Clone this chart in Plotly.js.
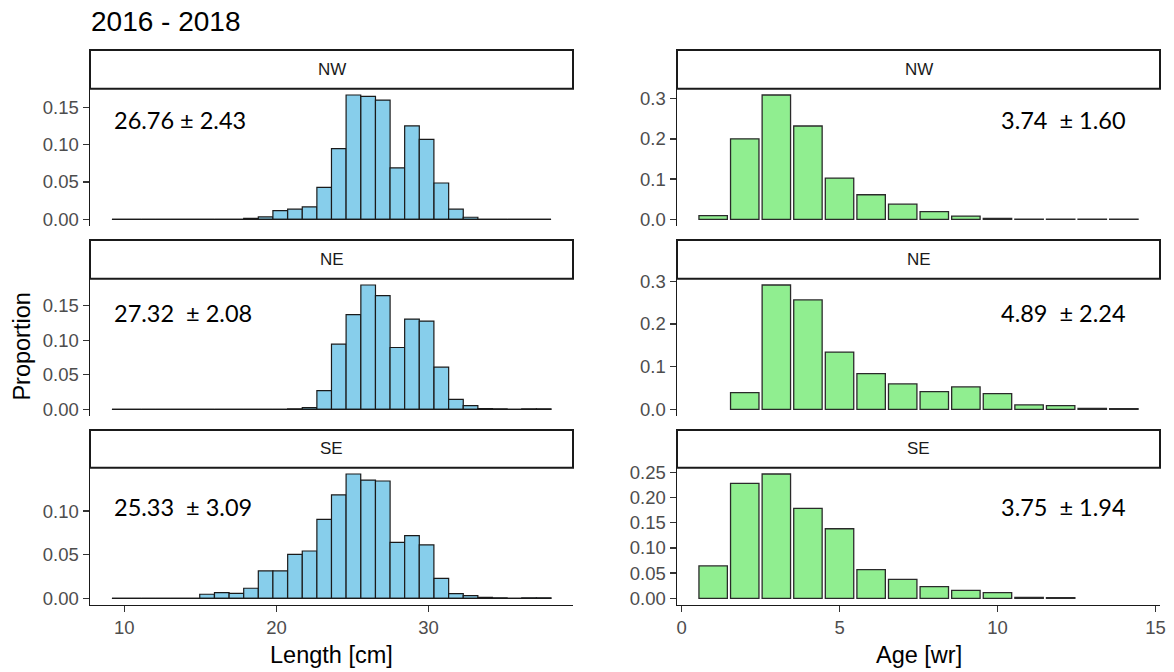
<!DOCTYPE html>
<html>
<head>
<meta charset="utf-8">
<script src="https://cdn.plot.ly/plotly-3.0.1.min.js"></script>
<style>html,body{margin:0;padding:0;background:#fff;}#chart{width:1174px;height:672px;}</style>
</head>
<body>
<div id="chart"></div>
<script>
// ---- data ----
const chartTitle = "2016 - 2018";
const regions = ["NW", "NE", "SE"];
const lengthMids = [9.67,10.63,11.60,12.56,13.52,14.48,15.44,16.41,17.37,18.33,19.29,20.25,21.22,22.18,23.14,24.10,25.06,26.03,26.99,27.95,28.91,29.87,30.84,31.80,32.76,33.72,34.68,35.65,36.61,37.57];
const lengthBinWidth = 0.962;
const nwLength = [0,0,0,0,0,0,0,0,0,0.0013,0.0031,0.0117,0.0135,0.0166,0.0428,0.0945,0.1664,0.1646,0.1596,0.0688,0.125,0.107,0.0486,0.0135,0.0027,0,0,0,0,0];
const neLength = [0,0,0,0,0,0,0,0,0,0,0,0,0.0005,0.0024,0.027,0.0943,0.137,0.180,0.1645,0.0895,0.1306,0.1277,0.061,0.0145,0.0053,0.001,0.0005,0,0.0005,0.0005];
const seLength = [0,0,0,0,0,0,0.0046,0.0065,0.0057,0.0115,0.0313,0.0313,0.0504,0.0542,0.0905,0.1184,0.1424,0.1355,0.1344,0.0641,0.0718,0.0611,0.0229,0.0053,0.003,0.001,0.0005,0,0.0005,0.0005];
const ages = [1,2,3,4,5,6,7,8,9,10,11,12,13,14];
const nwAge = [0.009,0.20,0.309,0.232,0.1025,0.061,0.0375,0.019,0.008,0.0025,0.0005,0.0005,0.0005,0.0005];
const neAge = [null,0.039,0.291,0.256,0.134,0.0835,0.0593,0.0414,0.0523,0.0367,0.0101,0.0086,0.0023,0.0015];
const seAge = [0.0642,0.228,0.2467,0.1786,0.138,0.0569,0.0377,0.0231,0.0159,0.0112,0.002,0.0013,null,null];
const lengthStats = ["26.76 ± 2.43", "27.32  ± 2.08", "25.33  ± 3.09"];
const ageStats = ["3.74  ± 1.60", "4.89  ± 2.24", "3.75  ± 1.94"];
const lengthTicks = [10, 20, 30];
const ageTicks = [0, 5, 10, 15];
const xTitleLeft = "Length [cm]";
const xTitleRight = "Age [wr]";
const yTitle = "Proportion";

// ---- layout geometry (pixels) ----
const W = 1174, H = 672;
const leftX = [90, 573], rightX = [677, 1160];
const panelY = [[88.8, 225.5], [278.8, 415.5], [467.8, 604.5]];
const stripY = [[50, 88.8], [240, 278.8], [430, 467.8]];
const px = v => v / W, py = v => 1 - v / H;

const FONT = "Liberation Sans, Arial, sans-serif";
const tickFont = {family: FONT, size: 18.5, color: "#4D4D4D"};

const lengthSets = [nwLength, neLength, seLength];
const ageSets = [nwAge, neAge, seAge];

const lenLo = lengthMids[0] - lengthBinWidth / 2;
const lenHi = lengthMids[lengthMids.length - 1] + lengthBinWidth / 2;
const lenPad = 0.05 * (lenHi - lenLo);
const ageLo = ages[0] - 0.45, ageHi = ages[ages.length - 1] + 0.45;
const agePad = 0.05 * (ageHi - ageLo);

const traces = [];
const layout = {
  width: W, height: H,
  margin: {l: 0, r: 0, t: 0, b: 0},
  paper_bgcolor: "#fff", plot_bgcolor: "#fff",
  showlegend: false,
  shapes: [], annotations: []
};

function yAxisFor(vals, dtick, fmt, domain, anchor) {
  const m = Math.max(...vals.filter(v => v !== null));
  return {
    domain: domain, anchor: anchor,
    range: [-0.05 * m, 1.05 * m],
    dtick: dtick, tick0: 0, tickformat: fmt,
    showgrid: false, zeroline: false,
    showline: true, linecolor: "#1a1a1a", linewidth: 1.5,
    ticks: "outside", ticklen: 6, tickwidth: 1.3, tickcolor: "#333",
    tickfont: tickFont, fixedrange: true
  };
}

for (let r = 0; r < 3; r++) {
  const li = 2 * r + 1, ri = 2 * r + 2;
  const yd = [py(panelY[r][1]), py(panelY[r][0])];
  const bottom = r === 2;
  layout["xaxis" + li] = {
    domain: [px(leftX[0]), px(leftX[1])], anchor: "y" + li,
    range: [lenLo - lenPad, lenHi + lenPad],
    showgrid: false, zeroline: false,
    showline: bottom, linecolor: "#1a1a1a", linewidth: 1.5,
    ticks: bottom ? "outside" : "", ticklen: 6, tickwidth: 1.3, tickcolor: "#333",
    tickvals: lengthTicks, showticklabels: bottom, tickfont: tickFont, fixedrange: true
  };
  layout["xaxis" + ri] = {
    domain: [px(rightX[0]), px(rightX[1])], anchor: "y" + ri,
    range: [ageLo - agePad, ageHi + agePad],
    showgrid: false, zeroline: false,
    showline: bottom, linecolor: "#1a1a1a", linewidth: 1.5,
    ticks: bottom ? "outside" : "", ticklen: 6, tickwidth: 1.3, tickcolor: "#333",
    tickvals: ageTicks, showticklabels: bottom, tickfont: tickFont, fixedrange: true
  };
  const lv = lengthSets[r], av = ageSets[r];
  layout["yaxis" + li] = yAxisFor(lv, 0.05, ".2f", yd, "x" + li);
  layout["yaxis" + ri] = yAxisFor(av, r === 2 ? 0.05 : 0.1, r === 2 ? ".2f" : ".1f", yd, "x" + ri);

  // baseline of empty histogram bins
  traces.push({
    type: "scatter", mode: "lines", x: [lenLo, lenHi], y: [0, 0],
    xaxis: "x" + li, yaxis: "y" + li,
    line: {color: "#1a1a1a", width: 1.3}, hoverinfo: "skip"
  });
  traces.push({
    type: "bar", x: lengthMids, y: lv, width: lengthBinWidth,
    xaxis: "x" + li, yaxis: "y" + li,
    marker: {color: "#87CEEB", line: {color: "#1a1a1a", width: 1.2}}
  });
  traces.push({
    type: "bar", x: ages, y: av, width: 0.9,
    xaxis: "x" + ri, yaxis: "y" + ri,
    marker: {color: "#90EE90", line: {color: "#2a2a2a", width: 1.3}}
  });

  // strips
  [leftX, rightX].forEach(xr => {
    layout.shapes.push({
      type: "rect", xref: "paper", yref: "paper",
      x0: px(xr[0]), x1: px(xr[1]), y0: py(stripY[r][1]), y1: py(stripY[r][0]),
      fillcolor: "#fff", line: {color: "#1a1a1a", width: 2}
    });
    layout.annotations.push({
      xref: "paper", yref: "paper", x: px((xr[0] + xr[1]) / 2), y: py((stripY[r][0] + stripY[r][1]) / 2),
      xanchor: "center", yanchor: "middle", showarrow: false,
      text: regions[r], font: {family: FONT, size: 17, color: "#1A1A1A"}
    });
  });

  // stats text
  const statY = [0.775, 0.75, 0.713][r];
  layout.annotations.push({
    xref: "x" + li + " domain", yref: "y" + li + " domain", x: 0.045, y: statY,
    xanchor: "left", yanchor: "middle", showarrow: false,
    text: lengthStats[r], font: {family: "Lato, Open Sans, sans-serif", size: 23.5, color: "#000"}
  });
  layout.annotations.push({
    xref: "x" + ri + " domain", yref: "y" + ri + " domain", x: 0.934, y: statY,
    xanchor: "right", yanchor: "middle", showarrow: false,
    text: ageStats[r], font: {family: "Lato, Open Sans, sans-serif", size: 23.5, color: "#000"}
  });
}

// titles
layout.annotations.push({
  xref: "paper", yref: "paper", x: px(89), y: py(22), xanchor: "left", yanchor: "middle",
  showarrow: false, text: chartTitle, font: {family: FONT, size: 28, color: "#000"}
});
layout.annotations.push({
  xref: "paper", yref: "paper", x: px((leftX[0] + leftX[1]) / 2), y: py(655), xanchor: "center", yanchor: "middle",
  showarrow: false, text: xTitleLeft, font: {family: FONT, size: 23.5, color: "#000"}
});
layout.annotations.push({
  xref: "paper", yref: "paper", x: px((rightX[0] + rightX[1]) / 2), y: py(655), xanchor: "center", yanchor: "middle",
  showarrow: false, text: xTitleRight, font: {family: FONT, size: 23.5, color: "#000"}
});
layout.annotations.push({
  xref: "paper", yref: "paper", x: px(22), y: py(346.6), xanchor: "center", yanchor: "middle",
  showarrow: false, textangle: -90, text: yTitle, font: {family: FONT, size: 23.5, color: "#000"}
});

Plotly.newPlot("chart", traces, layout, {staticPlot: true, displayModeBar: false});
</script>
</body>
</html>
